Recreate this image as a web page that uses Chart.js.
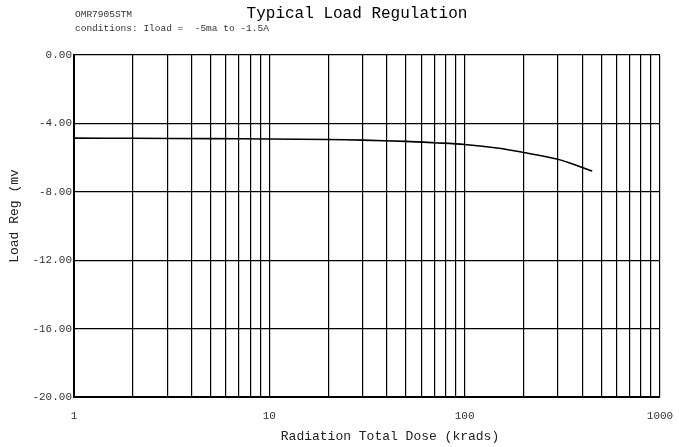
<!DOCTYPE html>
<html>
<head>
<meta charset="utf-8">
<script src="https://cdn.jsdelivr.net/npm/chart.js@4/dist/chart.umd.min.js"></script>
<style>
    html, body { margin: 0; padding: 0; background: #fff; }
    #wrap { width: 679px; height: 447px; }
</style>
</head>
<body>
<div id="wrap"><canvas id="chart" width="679" height="447"></canvas></div>
<script>
// dose (krads) and load regulation (mV)
const doseValues = [1, 2, 5, 10, 20, 30, 50, 70, 100, 150, 200, 300, 400, 450];
const loadRegValues = [-4.86, -4.87, -4.89, -4.91, -4.94, -4.98, -5.05, -5.13, -5.23, -5.45, -5.70, -6.10, -6.58, -6.79];

const xTickValues = [1, 2, 3, 4, 5, 6, 7, 8, 9, 10, 20, 30, 40, 50, 60, 70, 80, 90, 100,
    200, 300, 400, 500, 600, 700, 800, 900, 1000];
const xTickLabels = [1, 10, 100, 1000];
const yTickValues = [0, -4, -8, -12, -16, -20];

const mono = '"Liberation Mono", "Courier New", monospace';

const textPlugin = {
    id: 'texts',
    afterDraw(chart) {
        const ctx = chart.ctx;
        ctx.save();
        ctx.fillStyle = '#000';
        ctx.textBaseline = 'middle';

        ctx.font = '16px ' + mono;
        ctx.textAlign = 'center';
        ctx.fillText('Typical Load Regulation', 357, 14);

        ctx.font = '9.5px ' + mono;
        ctx.textAlign = 'left';
        ctx.fillStyle = '#333';
        ctx.fillText('OMR7905STM', 75, 14);
        ctx.fillText('conditions: Iload =  -5ma to -1.5A', 75, 28);

        ctx.font = '13px ' + mono;
        ctx.textAlign = 'center';
        ctx.fillStyle = '#222';
        ctx.fillText('Radiation Total Dose (krads)', 390, 437);

        ctx.translate(15, 216);
        ctx.rotate(-Math.PI / 2);
        ctx.fillText('Load Reg (mv', 0, 0);
        ctx.restore();
    }
};

const points = doseValues.map((d, i) => ({ x: d, y: loadRegValues[i] }));

new Chart(document.getElementById('chart'), {
    type: 'line',
    data: {
        datasets: [{
            data: points,
            borderColor: '#000',
            borderWidth: 1.6,
            pointRadius: 0,
            fill: false,
            tension: 0.3
        }]
    },
    options: {
        responsive: false,
        animation: false,
        layout: { padding: { left: 0, top: 55, right: 19, bottom: 0 } },
        plugins: {
            legend: { display: false },
            tooltip: { enabled: false }
        },
        scales: {
            x: {
                type: 'logarithmic',
                min: 1,
                max: 1000,
                afterBuildTicks: scale => {
                    scale.ticks = xTickValues.map(v => ({ value: v }));
                },
                afterFit: scale => {
                    scale.height = 50;
                    scale.paddingLeft = 0;
                    scale.paddingRight = 0;
                },
                grid: { color: '#000', lineWidth: 1.2, drawTicks: false },
                border: { color: '#000', width: 2 },
                ticks: {
                    autoSkip: false,
                    maxRotation: 0,
                    padding: 12,
                    color: '#333',
                    font: { family: mono, size: 11 },
                    callback: v => xTickLabels.includes(v) ? String(v) : ''
                }
            },
            y: {
                min: -20,
                max: 0,
                afterBuildTicks: scale => {
                    scale.ticks = yTickValues.map(v => ({ value: v }));
                },
                afterFit: scale => {
                    scale.width = 74;
                    scale.paddingTop = 0;
                    scale.paddingBottom = 0;
                },
                grid: { color: '#000', lineWidth: 1.2, drawTicks: false },
                border: { color: '#000', width: 2 },
                ticks: {
                    padding: 2,
                    color: '#333',
                    font: { family: mono, size: 11 },
                    callback: v => v.toFixed(2)
                }
            }
        }
    },
    plugins: [textPlugin]
});
</script>
</body>
</html>
